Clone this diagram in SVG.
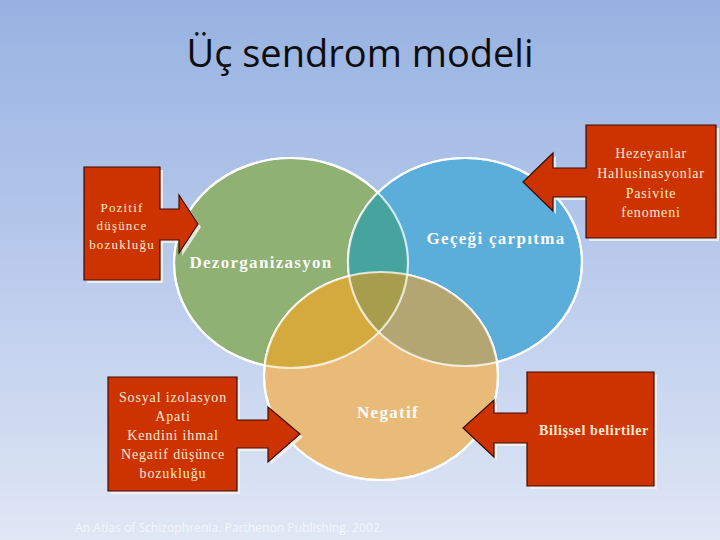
<svg xmlns="http://www.w3.org/2000/svg" width="720" height="540" viewBox="0 0 720 540">
<defs>
<linearGradient id="bg" x1="0" y1="0" x2="0" y2="1">
<stop offset="0" stop-color="#97b2e1"/>
<stop offset="0.45" stop-color="#b6c8eb"/>
<stop offset="1" stop-color="#e0e7f5"/>
</linearGradient>
<clipPath id="cg"><ellipse cx="291" cy="263" rx="117" ry="105"/></clipPath>
<clipPath id="cb"><ellipse cx="465" cy="262" rx="117" ry="104"/></clipPath>
<clipPath id="co"><ellipse cx="381" cy="376" rx="117" ry="104"/></clipPath>
</defs>
<style>
.circ{stroke:#ffffff;stroke-width:2.2}
.edge{fill:none;stroke:#ffffff;stroke-width:2.2;stroke-opacity:0.75}
.shadow{fill:#f6f1ea;opacity:0.85}
.callout{fill:#cc3300;stroke:#3a0a00;stroke-width:1.2;stroke-linejoin:miter}
.ct{font-family:"Liberation Serif","Times New Roman",serif;fill:#fbead4;text-anchor:middle}
.lbl{font-family:"Liberation Serif","Times New Roman",serif;font-weight:bold;font-size:17px;letter-spacing:1.3px;fill:#fbfbfb;text-anchor:middle}
</style>
<rect x="0" y="0" width="720" height="540" fill="url(#bg)"/>
<text x="360" y="67" font-family="'Open Sans','Noto Sans',sans-serif" font-size="38" fill="#0d0d0d" text-anchor="middle">Üç sendrom modeli</text>

<g id="venn">
<g id="circle-dezorganizasyon">
<ellipse class="circ" cx="291" cy="263" rx="117" ry="105" fill="#8fb173"/>
</g>
<g id="circle-gercegi">
<ellipse class="circ" cx="465" cy="262" rx="117" ry="104" fill="#5badda"/>
</g>
<g id="circle-negatif">
<ellipse class="circ" cx="381" cy="376" rx="117" ry="104" fill="#e9bb78"/>
</g>
<g id="overlaps">
<g clip-path="url(#cg)"><ellipse cx="465" cy="262" rx="117" ry="104" fill="#47a39e"/></g>
<g clip-path="url(#cg)"><ellipse cx="381" cy="376" rx="117" ry="104" fill="#d4aa3e"/></g>
<g clip-path="url(#cb)"><ellipse cx="381" cy="376" rx="117" ry="104" fill="#b3a672"/></g>
<g clip-path="url(#cg)"><g clip-path="url(#cb)"><ellipse cx="381" cy="376" rx="117" ry="104" fill="#a89d4c"/></g></g>
<ellipse class="edge" cx="291" cy="263" rx="117" ry="105"/>
<ellipse class="edge" cx="465" cy="262" rx="117" ry="104"/>
<ellipse class="edge" cx="381" cy="376" rx="117" ry="104"/>
</g>
<text class="lbl" x="261" y="268" letter-spacing="1.4">Dezorganizasyon</text>
<text class="lbl" x="496" y="244">Geçeği çarpıtma</text>
<text class="lbl" x="388" y="418">Negatif</text>
</g>

<g id="callout-pozitif">
<polygon class="shadow" transform="translate(3,3)" points="84,167 160,167 160,209 179,209 179,195 198,224 179,253 179,240 160,240 160,280 84,280"/>
<polygon class="callout" points="84,167 160,167 160,209 179,209 179,195 198,224 179,253 179,240 160,240 160,280 84,280"/>
<text class="ct" font-size="13" letter-spacing="1.2"><tspan x="122" y="212">Pozitif</tspan><tspan x="122" y="230">düşünce</tspan><tspan x="122" y="249">bozukluğu</tspan></text>
</g>

<g id="callout-hezeyanlar">
<polygon class="shadow" transform="translate(3,3)" points="586,125 716,125 716,238 586,238 586,197 553,197 553,211 523,182 553,153 553,168 586,168"/>
<polygon class="callout" points="586,125 716,125 716,238 586,238 586,197 553,197 553,211 523,182 553,153 553,168 586,168"/>
<text class="ct" font-size="14" letter-spacing="0.8"><tspan x="651" y="158">Hezeyanlar</tspan><tspan x="651" y="178">Hallusinasyonlar</tspan><tspan x="651" y="198">Pasivite</tspan><tspan x="651" y="217">fenomeni</tspan></text>
</g>

<g id="callout-sosyal">
<polygon class="shadow" transform="translate(3,3)" points="108,377 237,377 237,420 268,420 268,407 300,434 268,462 268,448 237,448 237,491 108,491"/>
<polygon class="callout" points="108,377 237,377 237,420 268,420 268,407 300,434 268,462 268,448 237,448 237,491 108,491"/>
<text class="ct" font-size="14" letter-spacing="0.85"><tspan x="173" y="402">Sosyal izolasyon</tspan><tspan x="173" y="421">Apati</tspan><tspan x="173" y="440">Kendini ihmal</tspan><tspan x="173" y="459">Negatif düşünce</tspan><tspan x="173" y="478">bozukluğu</tspan></text>
</g>

<g id="callout-bilissel">
<polygon class="shadow" transform="translate(3,3)" points="527,372 654,372 654,486 527,486 527,443 494,443 494,457 463,428 494,400 494,413 527,413"/>
<polygon class="callout" points="527,372 654,372 654,486 527,486 527,443 494,443 494,457 463,428 494,400 494,413 527,413"/>
<text class="ct" font-size="14" font-weight="bold" letter-spacing="0.6" x="594" y="435">Bilişsel belirtiler</text>
</g>

<text x="75" y="532" font-family="'Open Sans','Noto Sans',sans-serif" font-size="12" fill="#f3f6fc" textLength="308" lengthAdjust="spacingAndGlyphs">An Atlas of Schizophrenia. Parthenon Publishing. 2002.</text>
</svg>
